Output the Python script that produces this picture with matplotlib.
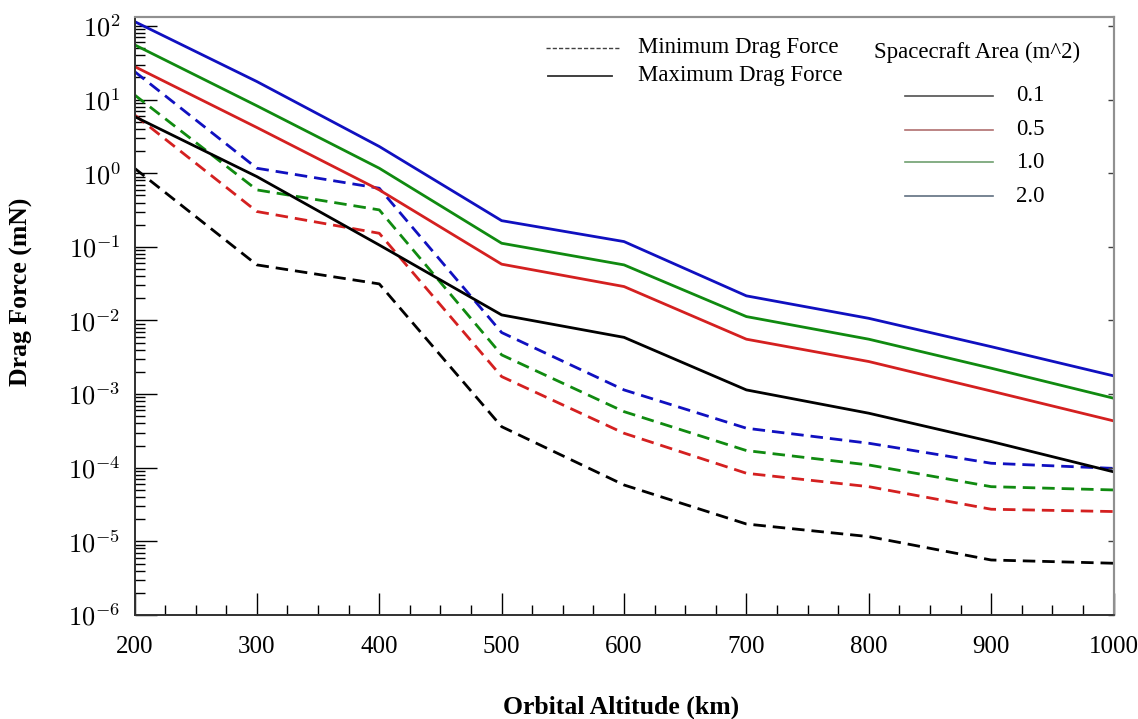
import numpy as np
import matplotlib
matplotlib.use("Agg")
import matplotlib.pyplot as plt
from matplotlib.ticker import LogLocator, MultipleLocator, NullFormatter

plt.rcParams["font.family"] = ["Liberation Serif", "DejaVu Serif"]
plt.rcParams["mathtext.fontset"] = "cm"

altitude = [200, 300, 400, 500, 600, 700, 800, 900, 1000]
areas = ["0.1", "0.5", "1.0", "2.0"]

# maksymalna sila oporu (mN)
max_01 = [5.9, 0.90, 0.106, 0.0119, 0.0059, 0.00114, 0.00055, 0.000227, 8.8e-5]
max_05 = [28.2, 4.18, 0.594, 0.0582, 0.0289, 0.00557, 0.00277, 0.0011, 0.000433]
max_10 = [55.6, 8.24, 1.17, 0.112, 0.0569, 0.0113, 0.00557, 0.00225, 0.00088]
max_20 = [115, 17.6, 2.31, 0.227, 0.118, 0.0216, 0.0107, 0.00441, 0.00177]

# minimalna sila oporu (mN)
min_01 = [1.17, 0.0569, 0.0314, 0.000361, 5.83e-5, 1.72e-5, 1.16e-5, 5.58e-6, 5.04e-6]
min_05 = [6.21, 0.302, 0.153, 0.00173, 0.000294, 8.41e-5, 5.53e-5, 2.73e-5, 2.54e-5]
min_10 = [11.6, 0.594, 0.318, 0.00341, 0.000578, 0.000171, 0.000109, 5.53e-5, 4.99e-5]
min_20 = [24.1, 1.17, 0.626, 0.00686, 0.00114, 0.000344, 0.000215, 0.000115, 9.8e-5]

colors = ["black", "#d42020", "#108a10", "#1010c0"]
legend_colors = ["#505050", "#b07070", "#70a070", "#607080"]
max_series = [max_01, max_05, max_10, max_20]
min_series = [min_01, min_05, min_10, min_20]

fig = plt.figure(figsize=(11.38, 7.19), dpi=100)
ax = fig.add_axes([0.1182, 0.1447, 0.8603, 0.8318])

for c, ys in zip(colors, min_series):
    ax.plot(altitude, ys, color=c, lw=2.0, dashes=(4.5, 2.5))
for c, ys in zip(colors, max_series):
    ax.plot(altitude, ys, color=c, lw=2.0)

ax.set_yscale("log")
ax.set_xlim(200, 1000)
ax.set_ylim(1e-6, 1.33e2)

ax.xaxis.set_major_locator(MultipleLocator(100))
ax.xaxis.set_minor_locator(MultipleLocator(25))
ax.yaxis.set_minor_locator(LogLocator(base=10, subs=np.arange(2, 10), numticks=20))
ax.yaxis.set_minor_formatter(NullFormatter())
ax.set_yticks([10.0 ** k for k in range(-6, 3)])
ax.set_yticklabels([r"$10^{%d}$" % k for k in range(-6, 3)])

ax.tick_params(axis="x", which="major", direction="in", length=16, width=1,
               labelsize=18, pad=15, top=False)
ax.tick_params(axis="x", which="minor", direction="in", length=7, width=1, top=False)
ax.tick_params(axis="y", which="major", direction="in", length=16, width=1,
               labelsize=19, pad=10, right=False)
ax.tick_params(axis="y", which="minor", direction="in", length=7, width=1, right=False)

# krotkie kreski na prawej osi
ax2 = ax.twinx()
ax2.set_yscale("log")
ax2.set_ylim(ax.get_ylim())
ax2.set_yticks([10.0 ** k for k in range(-6, 3)])
ax2.yaxis.set_minor_locator(LogLocator(base=10, subs=[], numticks=20))
ax2.tick_params(axis="y", which="major", direction="in", length=4, width=1,
                labelright=False, color="#404040")
ax2.tick_params(axis="y", which="minor", length=0)

for a in [ax, ax2]:
    for s in ["left", "bottom"]:
        a.spines[s].set_color("#303030")
        a.spines[s].set_linewidth(1.2)
    for s in ["top", "right"]:
        a.spines[s].set_color("#909090")
        a.spines[s].set_linewidth(1.5)

ax.set_xlabel("Orbital Altitude (km)", fontsize=18.5, fontweight="bold")
ax.xaxis.set_label_coords(0.497, -0.134)
ax.set_ylabel("Drag Force (mN)", fontsize=18.5, fontweight="bold")
ax.yaxis.set_label_coords(-0.104, 0.54)

# legenda rysowana recznie
t = ax.transAxes
ax.plot([0.42, 0.496], [0.948, 0.948], transform=t, color="#404040", lw=1.0,
        dashes=(3, 1.5))
ax.text(0.514, 0.948, "Minimum Drag Force", transform=t, fontsize=16.5, va="center")
ax.plot([0.422, 0.488], [0.902, 0.902], transform=t, color="#303030", lw=1.3)
ax.text(0.514, 0.902, "Maximum Drag Force", transform=t, fontsize=16.5, va="center")
ax.text(0.755, 0.941, "Spacecraft Area (m^2)", transform=t, fontsize=16.5, va="center")

leg_y = [0.868, 0.811, 0.757, 0.700]
for c, lab, yy in zip(legend_colors, areas, leg_y):
    ax.plot([0.787, 0.877], [yy, yy], transform=t, color=c, lw=1.2)
    ax.text(0.9, yy, lab, transform=t, fontsize=16.5, va="center")

fig.savefig("out.png", dpi=100)
